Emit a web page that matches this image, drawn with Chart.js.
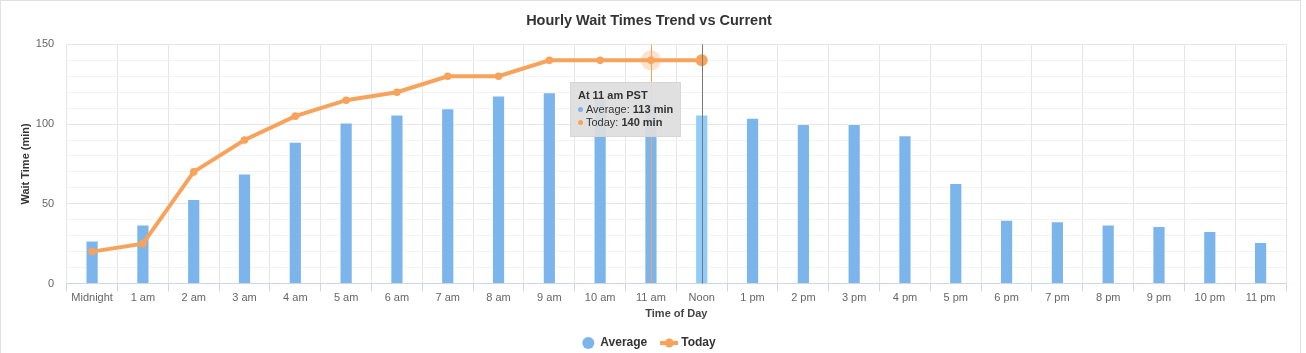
<!DOCTYPE html>
<html lang="en">
<head>
<meta charset="UTF-8">
<title>Hourly Wait Times Trend vs Current</title>
<script src="https://cdn.jsdelivr.net/npm/chart.js"></script>
<style>
    body { margin: 0; background: #fff; font-family: 'Liberation Sans', Arial, sans-serif; }
    #chart-container { position: relative; width: 1306px; height: 353px; }
    #frame { position: absolute; left: 0; top: 0; width: 1301px; height: 360px; border: 1px solid #e0e0e0; box-sizing: border-box; pointer-events: none; }
    #tip { position: absolute; display: none; background: rgba(222,222,222,0.93); border: 1px solid #d6d6d6;
           padding: 6px 7px; font-size: 11px; line-height: 13.5px; color: #333; white-space: nowrap; pointer-events: none; }
    #tip .dot { display: inline-block; width: 5px; height: 5px; border-radius: 50%; margin-right: 3px; vertical-align: 1px; }
</style>
</head>
<body>

<div id="chart-container">
    <canvas id="waitChart"></canvas>
    <div id="frame"></div>
    <div id="tip"></div>
</div>

<script>
    const hours = ['Midnight', '1 am', '2 am', '3 am', '4 am', '5 am', '6 am', '7 am', '8 am', '9 am', '10 am', '11 am',
                   'Noon', '1 pm', '2 pm', '3 pm', '4 pm', '5 pm', '6 pm', '7 pm', '8 pm', '9 pm', '10 pm', '11 pm'];
    const averageWait = [27, 37, 53, 69, 89, 101, 106, 110, 118, 120, 116, 113,
                         106, 104, 100, 100, 93, 63, 40, 39, 37, 36, 33, 26];
    const todayWait = [20, 25, 70, 90, 105, 115, 120, 130, 130, 140, 140, 140, 140,
                       null, null, null, null, null, null, null, null, null, null, null];
    const yMin = 0, yMax = 150, yLabelStep = 50, yGridStep = 10;
    const hoverHour = 11;    // hovered column (tooltip)
    const currentHour = 12;  // "now" marker

    const BLUE = '#7cb5ec', BLUE_HOVER = '#91cbf8', ORANGE = '#f7a35c';
    const FONT = "'Liberation Sans', Arial, sans-serif";

    // legend symbol for the line series: short line with a marker
    const todaySymbol = document.createElement('canvas');
    todaySymbol.width = 18; todaySymbol.height = 10;
    (function () {
        const c = todaySymbol.getContext('2d');
        c.fillStyle = ORANGE;
        c.fillRect(0, 3, 18, 4);
        c.beginPath(); c.arc(9, 5, 4.5, 0, Math.PI * 2); c.fill();
    })();

    // vertical markers + hover halo
    const markers = {
        id: 'markers',
        beforeDatasetsDraw(chart) {
            const pt = chart.getDatasetMeta(1).data[hoverHour];
            const ctx = chart.ctx;
            ctx.save();
            ctx.fillStyle = 'rgba(247,163,92,0.3)';
            ctx.beginPath(); ctx.arc(pt.x, pt.y, 10, 0, Math.PI * 2); ctx.fill();
            ctx.restore();
        },
        afterDatasetsDraw(chart) {
            const {ctx, chartArea, scales} = chart;
            const line = (idx, color) => {
                const x = Math.round(scales.x.getPixelForValue(idx)) + 0.5;
                ctx.strokeStyle = color;
                ctx.lineWidth = 1;
                ctx.beginPath(); ctx.moveTo(x, chartArea.top); ctx.lineTo(x, chartArea.bottom); ctx.stroke();
            };
            ctx.save();
            line(hoverHour, ORANGE);
            line(currentHour, '#777');
            ctx.restore();
        }
    };

    function externalTip(context) {
        const {chart, tooltip} = context;
        const el = document.getElementById('tip');
        if (tooltip.opacity === 0 || !tooltip.dataPoints || !tooltip.dataPoints.length) { el.style.display = 'none'; return; }
        const i = tooltip.dataPoints[0].dataIndex;
        let html = '<b>At ' + hours[i] + ' PST</b>';
        tooltip.dataPoints.slice().sort((a, b) => a.datasetIndex - b.datasetIndex).forEach(dp => {
            const color = dp.datasetIndex === 0 ? BLUE : ORANGE;
            html += '<br><span class="dot" style="background:' + color + '"></span>' + dp.dataset.label + ': <b>' + dp.raw + ' min</b>';
        });
        el.innerHTML = html;
        const pt = chart.getDatasetMeta(1).data[i];
        el.style.display = 'block';
        el.style.left = (pt.x - 81) + 'px';
        el.style.top = (pt.y + 22) + 'px';
    }

    const ctx = document.getElementById('waitChart').getContext('2d');

    const chart = new Chart(ctx, {
        data: {
            labels: hours,
            datasets: [
                {
                    type: 'bar',
                    label: 'Average',
                    data: averageWait,
                    order: 2,
                    backgroundColor: c => c.dataIndex === currentHour ? BLUE_HOVER : BLUE,
                    borderColor: 'rgba(255,255,255,0.35)',
                    borderWidth: 1,
                    barPercentage: 0.26,
                    categoryPercentage: 1
                },
                {
                    type: 'line',
                    label: 'Today',
                    data: todayWait,
                    order: 1,
                    borderColor: ORANGE,
                    backgroundColor: ORANGE,
                    borderWidth: 4,
                    pointBackgroundColor: ORANGE,
                    pointBorderWidth: 0,
                    pointRadius: c => c.dataIndex === currentHour ? 6 : 3.8,
                    tension: 0,
                    spanGaps: false
                }
            ]
        },
        options: {
            responsive: true,
            maintainAspectRatio: false,
            animation: false,
            events: [],
            layout: { padding: { left: 12, right: 20, top: 0, bottom: -6 } },
            plugins: {
                title: {
                    display: true,
                    text: 'Hourly Wait Times Trend vs Current',
                    color: '#333',
                    font: { family: FONT, size: 14.5, weight: 'bold' },
                    padding: { top: 12, bottom: 15 }
                },
                legend: {
                    position: 'bottom',
                    labels: {
                        usePointStyle: true,
                        boxHeight: 8.5,
                        padding: 16,
                        color: '#333',
                        font: { family: FONT, size: 12, weight: 'bold' },
                        sort: (a, b) => a.datasetIndex - b.datasetIndex,
                        generateLabels(ch) {
                            const items = Chart.defaults.plugins.legend.labels.generateLabels(ch);
                            items.forEach(it => {
                                if (it.datasetIndex === 0) {
                                    it.pointStyle = 'circle';
                                    it.fillStyle = BLUE;
                                    it.strokeStyle = BLUE;
                                    it.lineWidth = 0;
                                } else {
                                    it.pointStyle = todaySymbol;
                                }
                            });
                            return items;
                        }
                    }
                },
                tooltip: {
                    enabled: false,
                    mode: 'index',
                    external: externalTip
                }
            },
            scales: {
                x: {
                    offset: true,
                    grid: { offset: true, color: '#e6e6e6', tickColor: '#ccd6eb', tickLength: 8 },
                    border: { color: '#ccd6eb', width: 1 },
                    ticks: { color: '#666', font: { family: FONT, size: 11 }, autoSkip: false, maxRotation: 0, padding: 0 },
                    title: { display: true, text: 'Time of Day', color: '#444', font: { family: FONT, size: 11, weight: 'bold' }, padding: { top: 0, bottom: 0.5 } },
                    afterFit: s => { s.height = 37.5; }
                },
                y: {
                    min: yMin,
                    max: yMax,
                    grid: {
                        drawTicks: false,
                        color: c => c.tick.value % yLabelStep === 0 ? '#e6e6e6' : '#f3f3f3'
                    },
                    border: { display: false },
                    ticks: {
                        stepSize: yGridStep,
                        maxTicksLimit: 30,
                        autoSkip: false,
                        padding: 12.5,
                        color: '#666',
                        font: { family: FONT, size: 11 },
                        callback: v => v % yLabelStep === 0 ? v : ''
                    },
                    title: { display: true, text: 'Wait Time (min)', color: '#333', font: { family: FONT, size: 11, weight: 'bold' }, padding: { top: 7, bottom: 0 } },
                    afterFit: s => { s.width = 54.7; }
                }
            }
        },
        plugins: [markers]
    });

    chart.tooltip.setActiveElements([
        { datasetIndex: 0, index: hoverHour },
        { datasetIndex: 1, index: hoverHour }
    ], { x: 0, y: 0 });
</script>

</body>
</html>
